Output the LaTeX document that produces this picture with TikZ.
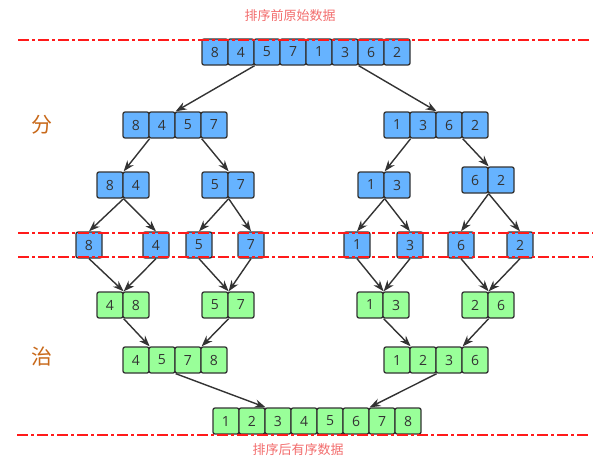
\documentclass[tikz,border=0pt]{standalone}
\usepackage{fontspec}
\setmainfont{Open Sans}
\newfontfamily\cjk{Noto Sans CJK SC}
\usetikzlibrary{arrows.meta}

\definecolor{splitblue}{HTML}{66B3FF}
\definecolor{mergegreen}{HTML}{99FF99}
\definecolor{celledge}{HTML}{333333}
\definecolor{arrowgray}{HTML}{333333}
\definecolor{cutred}{HTML}{FF1A1A}
\definecolor{notered}{HTML}{F26C6C}
\definecolor{phaseorange}{HTML}{C8691A}

% a row of cells: name, style, left x, centre y, digits
\newcommand{\cellrow}[5]{%
  \foreach \d [count=\i] in {#5}
    \node[#2] (#1\i) at ({#3+13+26*(\i-1)},#4) {\d};}

\begin{document}
\begin{tikzpicture}[x=1pt,y=-1pt,
    cell/.style={rectangle,draw=celledge,line width=1.3pt,rounded corners=2pt,
                 minimum width=26pt,minimum height=26pt,inner sep=0pt,
                 font=\fontsize{14}{14}\selectfont,text=celledge},
    split/.style={cell,fill=splitblue},
    merge/.style={cell,fill=mergegreen},
    arrow/.style={draw=arrowgray,line width=1.4pt,-{Stealth[length=11pt,width=8pt]}},
    cut/.style={draw=cutred,line width=1.2pt,dash pattern=on 11pt off 3pt on 3pt off 3pt},
    note/.style={font=\cjk\fontsize{13}{13}\selectfont,text=notered},
    phase/.style={font=\cjk\fontsize{21}{21}\selectfont,text=phaseorange}]
  \useasboundingbox (0,0) rectangle (611,463);

  % divide
  \cellrow{raw}{split}{202}{52}{8,4,5,7,1,3,6,2}
  \cellrow{L}{split}{123}{125}{8,4,5,7}
  \cellrow{R}{split}{384}{125}{1,3,6,2}
  \cellrow{LL}{split}{97}{185}{8,4}
  \cellrow{LR}{split}{202}{185}{5,7}
  \cellrow{RL}{split}{358}{185}{1,3}
  \cellrow{RR}{split}{462}{180}{6,2}
  \foreach \d/\x [count=\i] in {8/89,4/156,5/199,7/251,1/357,3/410,6/461,2/520}
    \node[split] (leaf\i) at (\x,245) {\d};

  % conquer
  \cellrow{mLL}{merge}{97}{305}{4,8}
  \cellrow{mLR}{merge}{202}{305}{5,7}
  \cellrow{mRL}{merge}{357}{305}{1,3}
  \cellrow{mRR}{merge}{462}{305}{2,6}
  \cellrow{mL}{merge}{123}{360}{4,5,7,8}
  \cellrow{mR}{merge}{384}{360}{1,2,3,6}
  \cellrow{sorted}{merge}{213}{421}{1,2,3,4,5,6,7,8}

  \path[every edge/.style={arrow}]
    (raw2.south east) edge (L2.north east)
    (raw6.south east) edge (R2.north east)
    (L1.south east) edge (LL1.north east)
    (L3.south east) edge (LR1.north east)
    (R1.south east) edge (RL1.north east)
    (R3.south east) edge (RR1.north east)
    (LL1.south east) edge (leaf1.north)
                     edge (leaf2.north)
    (LR1.south east) edge (leaf3.north)
                     edge (leaf4.north)
    (RL1.south east) edge (leaf5.north)
                     edge (leaf6.north)
    (RR1.south east) edge (leaf7.north)
                     edge (leaf8.north)
    (leaf1.south) edge (mLL1.north east)
    (leaf2.south) edge (mLL1.north east)
    (leaf3.south) edge (mLR1.north east)
    (leaf4.south) edge (mLR1.north east)
    (leaf5.south) edge (mRL1.north east)
    (leaf6.south) edge (mRL1.north east)
    (leaf7.south) edge (mRR1.north east)
    (leaf8.south) edge (mRR1.north east)
    (mLL1.south east) edge (mL1.north east)
    (mLR1.south east) edge (mL3.north east)
    (mRL1.south east) edge (mR1.north east)
    (mRR1.south east) edge (mR3.north east)
    (mL2.south east) edge (sorted2.north east)
    (mR2.south east) edge (sorted6.north east);

  % cut lines
  \draw[cut] (18,40) -- (591,40);
  \draw[cut] (18,233) -- (593,233);
  \draw[cut] (18,257) -- (593,257);
  \draw[cut] (17,435) -- (591,435);

  \node[note] (before) at (290,16) {排序前原始数据};
  \node[note] (after) at (298,450) {排序后有序数据};
  \node[phase] (divide) at (42,125) {分};
  \node[phase] (conquer) at (42,357) {治};
\end{tikzpicture}
\end{document}
